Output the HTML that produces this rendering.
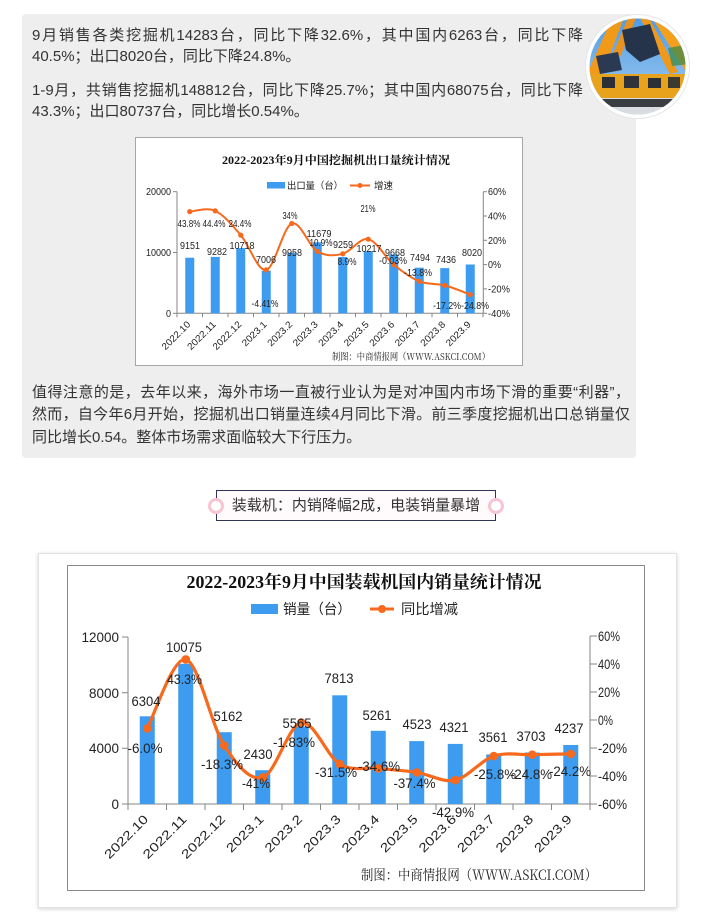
<!DOCTYPE html>
<html><head><meta charset="utf-8">
<style>
html,body{margin:0;padding:0;background:#fff;}
body{width:715px;height:922px;position:relative;overflow:hidden;font-family:"Liberation Sans","Noto Sans CJK SC",sans-serif;}
.gbox{position:absolute;left:22px;top:14px;width:614px;height:444px;background:#eeeeee;border-radius:4px;}
.ln{position:absolute;left:32px;height:22px;line-height:22px;font-size:15px;color:#333;white-space:nowrap;}
.j{text-align:justify;text-align-last:justify;}
.card{position:absolute;left:38px;top:553px;width:637px;height:353px;background:#fff;border:1px solid #e2e2e2;box-shadow:0 1px 4px rgba(0,0,0,0.18);}
.tag{position:absolute;left:216px;top:490px;width:280px;height:31px;border:1px solid #2f3558;background:#fffafb;box-sizing:border-box;text-align:center;line-height:29px;font-size:15px;color:#333;white-space:nowrap;}
.dot{position:absolute;width:10px;height:10px;border-radius:50%;border:3px solid #f7c4d2;background:#fff;}
svg{position:absolute;left:0;top:0;}
</style></head><body>
<div class="gbox"></div>
<div class="ln j" style="top:25px;width:551px;">9月销售各类挖掘机14283台，同比下降32.6%，其中国内6263台，同比下降</div>
<div class="ln" style="top:46px;">40.5%；出口8020台，同比下降24.8%。</div>
<div class="ln j" style="top:80px;width:551px;">1-9月，共销售挖掘机148812台，同比下降25.7%；其中国内68075台，同比下降</div>
<div class="ln" style="top:101px;">43.3%；出口80737台，同比增长0.54%。</div>
<div class="ln j" style="top:382px;width:598px;">值得注意的是，去年以来，海外市场一直被行业认为是对冲国内市场下滑的重要“利器”，</div>
<div class="ln j" style="top:404px;width:598px;">然而，自今年6月开始，挖掘机出口销量连续4月同比下滑。前三季度挖掘机出口总销量仅</div>
<div class="ln" style="top:427px;">同比增长0.54。整体市场需求面临较大下行压力。</div>

<div class="tag">装载机：内销降幅2成，电装销量暴增</div>
<div class="dot" style="left:208px;top:498px;"></div>
<div class="dot" style="left:488px;top:498px;"></div>

<div class="card"></div>

<svg width="715" height="922" viewBox="0 0 715 922" xmlns="http://www.w3.org/2000/svg">
<defs>
<clipPath id="cc"><circle cx="637.5" cy="66.5" r="48"/></clipPath>
<linearGradient id="sky" x1="0" y1="0" x2="0" y2="1"><stop offset="0" stop-color="#4f9be6"/><stop offset="1" stop-color="#a9d0f0"/></linearGradient>
</defs>
<!-- photo circle -->
<circle cx="637.5" cy="66.5" r="52" fill="#fff" stroke="#e6e6e6" stroke-width="1"/>
<g clip-path="url(#cc)">
<rect x="589" y="18" width="97" height="97" fill="url(#sky)"/>
<polygon points="588,72 600,80 624,18 612,18" fill="#f19a1a"/>
<polygon points="606,70 614,72 636,18 628,18" fill="#e99220"/>
<polygon points="652,18 666,18 690,62 690,78" fill="#f3a01e"/>
<polygon points="640,18 649,18 678,72 670,74" fill="#ee981c"/>
<polygon points="622,30 650,24 660,54 640,62 626,50" fill="#25344a"/>
<polygon points="596,56 618,52 622,70 600,74" fill="#2b3a52"/>
<polygon points="668,48 690,44 690,64 672,66" fill="#3f8a48" opacity="0.75"/>
<rect x="589" y="74" width="97" height="26" fill="#e9a21c"/>
<rect x="602" y="77" width="13" height="11" fill="#2c2f35"/>
<rect x="624" y="76" width="15" height="12" fill="#30343a"/>
<rect x="648" y="78" width="13" height="10" fill="#2c2f35"/>
<rect x="668" y="77" width="12" height="11" fill="#3a3a30"/>
<rect x="589" y="98" width="97" height="20" fill="#d9dde0"/>
<rect x="596" y="99" width="80" height="8" fill="#3a3d42"/>
</g>

<!-- ===== TOP CHART ===== -->
<rect x="135.5" y="137.5" width="387" height="228" fill="#fff" stroke="#a6a6a6"/>
<text x="336" y="164" text-anchor="middle" font-family="Liberation Serif,Noto Serif CJK SC,serif" font-weight="bold" font-size="11.5" textLength="228" lengthAdjust="spacingAndGlyphs" fill="#111">2022-2023年9月中国挖掘机出口量统计情况</text>
<rect x="267" y="182" width="18" height="6.5" fill="#3d9cf0"/>
<text x="287" y="189" font-family="Noto Sans CJK SC,sans-serif" font-size="9.5" textLength="56" lengthAdjust="spacingAndGlyphs" fill="#222">出口量（台）</text>
<line x1="350" y1="185.5" x2="370" y2="185.5" stroke="#f7691c" stroke-width="2"/>
<circle cx="360" cy="185.5" r="2.5" fill="#f7691c"/>
<text x="374" y="189" font-family="Noto Sans CJK SC,sans-serif" font-size="9.5" textLength="19" lengthAdjust="spacingAndGlyphs" fill="#222">增速</text>
<g stroke="#868686" stroke-width="1" fill="none">
<line x1="177" y1="191.7" x2="177" y2="313.3"/>
<line x1="173" y1="191.7" x2="177" y2="191.7"/><line x1="173" y1="252.5" x2="177" y2="252.5"/><line x1="173" y1="313.3" x2="177" y2="313.3"/>
<line x1="483.3" y1="191.7" x2="483.3" y2="313.3"/>
<line x1="483.3" y1="191.7" x2="487" y2="191.7"/><line x1="483.3" y1="216" x2="487" y2="216"/><line x1="483.3" y1="240.3" x2="487" y2="240.3"/><line x1="483.3" y1="264.6" x2="487" y2="264.6"/><line x1="483.3" y1="288.9" x2="487" y2="288.9"/><line x1="483.3" y1="313.3" x2="487" y2="313.3"/>
<line x1="177" y1="313.3" x2="483.3" y2="313.3"/>
<path d="M177 313.3v4M202.5 313.3v4M228 313.3v4M253.5 313.3v4M279 313.3v4M304.5 313.3v4M330 313.3v4M355.5 313.3v4M381 313.3v4M406.5 313.3v4M432 313.3v4M457.5 313.3v4M483 313.3v4"/>
</g>
<g font-family="Liberation Sans,sans-serif" font-size="10" fill="#222">
<text x="171" y="195" text-anchor="end" textLength="25" lengthAdjust="spacingAndGlyphs">20000</text>
<text x="171" y="256" text-anchor="end" textLength="25" lengthAdjust="spacingAndGlyphs">10000</text>
<text x="171" y="317" text-anchor="end" textLength="5" lengthAdjust="spacingAndGlyphs">0</text>
<text x="488" y="195" textLength="18" lengthAdjust="spacingAndGlyphs">60%</text>
<text x="488" y="219.5" textLength="18" lengthAdjust="spacingAndGlyphs">40%</text>
<text x="488" y="243.8" textLength="18" lengthAdjust="spacingAndGlyphs">20%</text>
<text x="488" y="268" textLength="13" lengthAdjust="spacingAndGlyphs">0%</text>
<text x="488" y="292.4" textLength="22" lengthAdjust="spacingAndGlyphs">-20%</text>
<text x="488" y="316.8" textLength="22" lengthAdjust="spacingAndGlyphs">-40%</text>
</g>
<g fill="#3d9cf0">
<rect x="185.25" y="257.7" width="9" height="55.6"/>
<rect x="210.75" y="256.9" width="9" height="56.4"/>
<rect x="236.25" y="248.1" width="9" height="65.2"/>
<rect x="261.75" y="270.7" width="9" height="42.6"/>
<rect x="287.25" y="252.8" width="9" height="60.5"/>
<rect x="312.75" y="242.3" width="9" height="71"/>
<rect x="338.25" y="257" width="9" height="56.3"/>
<rect x="363.75" y="251.2" width="9" height="62.1"/>
<rect x="389.25" y="254.5" width="9" height="58.8"/>
<rect x="414.75" y="267.7" width="9" height="45.6"/>
<rect x="440.25" y="268.1" width="9" height="45.2"/>
<rect x="465.75" y="264.5" width="9" height="48.8"/>
</g>
<path d="M189.75,211.6 C193.99,211.48 206.75,206.98 215.25,210.9 C223.75,214.82 232.25,225.27 240.75,235.1 C249.25,244.93 257.75,271.83 266.25,269.9 C274.75,267.97 283.25,226.58 291.75,223.5 C300.25,220.42 308.75,246.35 317.25,251.4 C325.75,256.45 334.25,255.83 342.75,253.8 C351.25,251.77 359.75,237.4 368.25,239.2 C376.75,241 385.25,257.58 393.75,264.6 C402.25,271.62 410.75,277.83 419.25,281.3 C427.75,284.77 436.25,283.18 444.75,285.4 C453.25,287.62 466,293.07 470.25,294.6" fill="none" stroke="#f7691c" stroke-width="2"/>
<g fill="#f7691c">
<circle cx="189.75" cy="211.6" r="2.6"/><circle cx="215.25" cy="210.9" r="2.6"/><circle cx="240.75" cy="235.1" r="2.6"/><circle cx="266.25" cy="269.9" r="2.6"/><circle cx="291.75" cy="223.5" r="2.6"/><circle cx="317.25" cy="251.4" r="2.6"/><circle cx="342.75" cy="253.8" r="2.6"/><circle cx="368.25" cy="239.2" r="2.6"/><circle cx="393.75" cy="264.6" r="2.6"/><circle cx="419.25" cy="281.3" r="2.6"/><circle cx="444.75" cy="285.4" r="2.6"/><circle cx="470.25" cy="294.6" r="2.6"/>
</g>
<g font-family="Liberation Sans,sans-serif" font-size="10" fill="#222" text-anchor="middle">
<text x="190" y="249" textLength="20" lengthAdjust="spacingAndGlyphs">9151</text>
<text x="217" y="255" textLength="20" lengthAdjust="spacingAndGlyphs">9282</text>
<text x="242" y="249" textLength="25" lengthAdjust="spacingAndGlyphs">10718</text>
<text x="266" y="263" textLength="20" lengthAdjust="spacingAndGlyphs">7006</text>
<text x="292" y="256" textLength="20" lengthAdjust="spacingAndGlyphs">9958</text>
<text x="319" y="237" textLength="25" lengthAdjust="spacingAndGlyphs">11679</text>
<text x="343" y="248" textLength="20" lengthAdjust="spacingAndGlyphs">9259</text>
<text x="369" y="252" textLength="25" lengthAdjust="spacingAndGlyphs">10217</text>
<text x="395" y="256" textLength="20" lengthAdjust="spacingAndGlyphs">9668</text>
<text x="420" y="261" textLength="20" lengthAdjust="spacingAndGlyphs">7494</text>
<text x="446" y="263" textLength="20" lengthAdjust="spacingAndGlyphs">7436</text>
<text x="472" y="256" textLength="20" lengthAdjust="spacingAndGlyphs">8020</text>
<text x="189" y="227" textLength="23" lengthAdjust="spacingAndGlyphs">43.8%</text>
<text x="214" y="227" textLength="23" lengthAdjust="spacingAndGlyphs">44.4%</text>
<text x="240" y="227" textLength="23" lengthAdjust="spacingAndGlyphs">24.4%</text>
<text x="265" y="307" textLength="27" lengthAdjust="spacingAndGlyphs">-4.41%</text>
<text x="290" y="219" textLength="15" lengthAdjust="spacingAndGlyphs">34%</text>
<text x="321" y="246" textLength="23" lengthAdjust="spacingAndGlyphs">10.9%</text>
<text x="347" y="265" textLength="19" lengthAdjust="spacingAndGlyphs">8.9%</text>
<text x="368" y="212" textLength="15" lengthAdjust="spacingAndGlyphs">21%</text>
<text x="393" y="264" textLength="28" lengthAdjust="spacingAndGlyphs">-0.03%</text>
<text x="418" y="276" textLength="28" lengthAdjust="spacingAndGlyphs">-13.8%</text>
<text x="447" y="309" textLength="28" lengthAdjust="spacingAndGlyphs">-17.2%</text>
<text x="475" y="309" textLength="28" lengthAdjust="spacingAndGlyphs">-24.8%</text>
</g>
<g font-family="Liberation Sans,sans-serif" font-size="9.5" fill="#222" text-anchor="end">
<text transform="translate(191,325) rotate(-45)" textLength="36" lengthAdjust="spacingAndGlyphs">2022.10</text>
<text transform="translate(216.5,325) rotate(-45)" textLength="36" lengthAdjust="spacingAndGlyphs">2022.11</text>
<text transform="translate(242,325) rotate(-45)" textLength="36" lengthAdjust="spacingAndGlyphs">2022.12</text>
<text transform="translate(267.5,325) rotate(-45)" textLength="31" lengthAdjust="spacingAndGlyphs">2023.1</text>
<text transform="translate(293,325) rotate(-45)" textLength="31" lengthAdjust="spacingAndGlyphs">2023.2</text>
<text transform="translate(318.5,325) rotate(-45)" textLength="31" lengthAdjust="spacingAndGlyphs">2023.3</text>
<text transform="translate(344,325) rotate(-45)" textLength="31" lengthAdjust="spacingAndGlyphs">2023.4</text>
<text transform="translate(369.5,325) rotate(-45)" textLength="31" lengthAdjust="spacingAndGlyphs">2023.5</text>
<text transform="translate(395,325) rotate(-45)" textLength="31" lengthAdjust="spacingAndGlyphs">2023.6</text>
<text transform="translate(420.5,325) rotate(-45)" textLength="31" lengthAdjust="spacingAndGlyphs">2023.7</text>
<text transform="translate(446,325) rotate(-45)" textLength="31" lengthAdjust="spacingAndGlyphs">2023.8</text>
<text transform="translate(471.5,325) rotate(-45)" textLength="31" lengthAdjust="spacingAndGlyphs">2023.9</text>
</g>
<text x="332" y="360" font-family="Noto Serif CJK SC,serif" font-size="9.6" fill="#222" textLength="158" lengthAdjust="spacingAndGlyphs">制图：中商情报网（WWW.ASKCI.COM）</text>

<!-- ===== BOTTOM CHART ===== -->
<rect x="67.5" y="565.5" width="577" height="325" fill="#fff" stroke="#8a8a8a"/>
<text x="364" y="588" text-anchor="middle" font-family="Liberation Serif,Noto Serif CJK SC,serif" font-weight="bold" font-size="17.5" textLength="355" lengthAdjust="spacingAndGlyphs" fill="#111">2022-2023年9月中国装载机国内销量统计情况</text>
<rect x="251" y="604" width="27" height="10" fill="#3d9cf0"/>
<text x="283" y="614" font-family="Noto Sans CJK SC,sans-serif" font-size="14" textLength="68" lengthAdjust="spacingAndGlyphs" fill="#222">销量（台）</text>
<line x1="370" y1="609" x2="394" y2="609" stroke="#f7691c" stroke-width="3"/>
<circle cx="382" cy="609" r="4" fill="#f7691c"/>
<text x="401" y="614" font-family="Noto Sans CJK SC,sans-serif" font-size="14" textLength="57" lengthAdjust="spacingAndGlyphs" fill="#222">同比增减</text>
<g stroke="#868686" stroke-width="1" fill="none">
<line x1="128" y1="637" x2="128" y2="804"/>
<path d="M122 637h6M122 692.7h6M122 748.3h6M122 804h6"/>
<line x1="590" y1="636" x2="590" y2="804"/>
<path d="M590 636h7M590 664h7M590 692h7M590 720h7M590 748h7M590 776h7M590 804h7"/>
<line x1="128" y1="804" x2="590" y2="804"/>
<path d="M128 804v6M166.5 804v6M205 804v6M243.5 804v6M282 804v6M320.5 804v6M359 804v6M397.5 804v6M436 804v6M474.5 804v6M513 804v6M551.5 804v6M590 804v6"/>
</g>
<g font-family="Liberation Sans,sans-serif" font-size="14" fill="#222">
<text x="119" y="642" text-anchor="end" textLength="37.5" lengthAdjust="spacingAndGlyphs">12000</text>
<text x="119" y="698" text-anchor="end" textLength="30" lengthAdjust="spacingAndGlyphs">8000</text>
<text x="119" y="753" text-anchor="end" textLength="30" lengthAdjust="spacingAndGlyphs">4000</text>
<text x="119" y="809" text-anchor="end" textLength="7.5" lengthAdjust="spacingAndGlyphs">0</text>
<text x="598" y="641" textLength="22" lengthAdjust="spacingAndGlyphs">60%</text>
<text x="598" y="669" textLength="22" lengthAdjust="spacingAndGlyphs">40%</text>
<text x="598" y="697" textLength="22" lengthAdjust="spacingAndGlyphs">20%</text>
<text x="598" y="725" textLength="15" lengthAdjust="spacingAndGlyphs">0%</text>
<text x="598" y="753" textLength="29" lengthAdjust="spacingAndGlyphs">-20%</text>
<text x="598" y="781" textLength="29" lengthAdjust="spacingAndGlyphs">-40%</text>
<text x="598" y="809" textLength="29" lengthAdjust="spacingAndGlyphs">-60%</text>
</g>
<g fill="#3d9cf0">
<rect x="139.75" y="716.3" width="15" height="87.7"/>
<rect x="178.25" y="663.8" width="15" height="140.2"/>
<rect x="216.75" y="732.2" width="15" height="71.8"/>
<rect x="255.25" y="770.2" width="15" height="33.8"/>
<rect x="293.75" y="726.6" width="15" height="77.4"/>
<rect x="332.25" y="695.3" width="15" height="108.7"/>
<rect x="370.75" y="730.8" width="15" height="73.2"/>
<rect x="409.25" y="741.1" width="15" height="62.9"/>
<rect x="447.75" y="743.9" width="15" height="60.1"/>
<rect x="486.25" y="754.4" width="15" height="49.6"/>
<rect x="524.75" y="752.5" width="15" height="51.5"/>
<rect x="563.25" y="745" width="15" height="59"/>
</g>
<path d="M147.25,728.4 C153.67,716.9 172.92,656.53 185.75,659.4 C198.58,662.27 211.42,725.93 224.25,745.6 C237.08,765.27 249.92,781.23 262.75,777.4 C275.58,773.57 288.42,724.82 301.25,722.6 C314.08,720.38 326.92,756.47 339.75,764.1 C352.58,771.73 365.42,767.02 378.25,768.4 C391.08,769.78 403.92,770.45 416.75,772.4 C429.58,774.35 442.42,782.82 455.25,780.1 C468.08,777.38 480.92,760.33 493.75,756.1 C506.58,751.87 519.42,755.07 532.25,754.7 C545.08,754.33 564.33,754.03 570.75,753.9" fill="none" stroke="#f7691c" stroke-width="3.2"/>
<g fill="#f7691c">
<circle cx="147.25" cy="728.4" r="4.3"/><circle cx="185.75" cy="659.4" r="4.3"/><circle cx="224.25" cy="745.6" r="4.3"/><circle cx="262.75" cy="777.4" r="4.3"/><circle cx="301.25" cy="722.6" r="4.3"/><circle cx="339.75" cy="764.1" r="4.3"/><circle cx="378.25" cy="768.4" r="4.3"/><circle cx="416.75" cy="772.4" r="4.3"/><circle cx="455.25" cy="780.1" r="4.3"/><circle cx="493.75" cy="756.1" r="4.3"/><circle cx="532.25" cy="754.7" r="4.3"/><circle cx="570.75" cy="753.9" r="4.3"/>
</g>
<g font-family="Liberation Sans,sans-serif" font-size="14" fill="#222" text-anchor="middle">
<text x="146" y="706" textLength="29" lengthAdjust="spacingAndGlyphs">6304</text>
<text x="184" y="652" textLength="36" lengthAdjust="spacingAndGlyphs">10075</text>
<text x="228" y="721" textLength="29" lengthAdjust="spacingAndGlyphs">5162</text>
<text x="258" y="759" textLength="29" lengthAdjust="spacingAndGlyphs">2430</text>
<text x="297" y="728" textLength="29" lengthAdjust="spacingAndGlyphs">5565</text>
<text x="339" y="683" textLength="29" lengthAdjust="spacingAndGlyphs">7813</text>
<text x="377" y="720" textLength="29" lengthAdjust="spacingAndGlyphs">5261</text>
<text x="417" y="729" textLength="29" lengthAdjust="spacingAndGlyphs">4523</text>
<text x="454" y="732" textLength="29" lengthAdjust="spacingAndGlyphs">4321</text>
<text x="493" y="742" textLength="29" lengthAdjust="spacingAndGlyphs">3561</text>
<text x="531" y="741" textLength="29" lengthAdjust="spacingAndGlyphs">3703</text>
<text x="569" y="733" textLength="29" lengthAdjust="spacingAndGlyphs">4237</text>
<text x="145" y="753" textLength="35" lengthAdjust="spacingAndGlyphs">-6.0%</text>
<text x="184.5" y="684" textLength="35" lengthAdjust="spacingAndGlyphs">43.3%</text>
<text x="222" y="769" textLength="42" lengthAdjust="spacingAndGlyphs">-18.3%</text>
<text x="256" y="788" textLength="28" lengthAdjust="spacingAndGlyphs">-41%</text>
<text x="294" y="747" textLength="42" lengthAdjust="spacingAndGlyphs">-1.83%</text>
<text x="336" y="777" textLength="42" lengthAdjust="spacingAndGlyphs">-31.5%</text>
<text x="379" y="771" textLength="42" lengthAdjust="spacingAndGlyphs">-34.6%</text>
<text x="414.5" y="788" textLength="42" lengthAdjust="spacingAndGlyphs">-37.4%</text>
<text x="453" y="817" textLength="42" lengthAdjust="spacingAndGlyphs">-42.9%</text>
<text x="495" y="779" textLength="42" lengthAdjust="spacingAndGlyphs">-25.8%</text>
<text x="531" y="779" textLength="42" lengthAdjust="spacingAndGlyphs">-24.8%</text>
<text x="570" y="776" textLength="42" lengthAdjust="spacingAndGlyphs">-24.2%</text>
</g>
<g font-family="Liberation Sans,sans-serif" font-size="12.5" fill="#222" text-anchor="end">
<text transform="translate(149,820) rotate(-45)" textLength="56" lengthAdjust="spacingAndGlyphs">2022.10</text>
<text transform="translate(187.5,820) rotate(-45)" textLength="56" lengthAdjust="spacingAndGlyphs">2022.11</text>
<text transform="translate(226,820) rotate(-45)" textLength="56" lengthAdjust="spacingAndGlyphs">2022.12</text>
<text transform="translate(264.5,820) rotate(-45)" textLength="47" lengthAdjust="spacingAndGlyphs">2023.1</text>
<text transform="translate(303,820) rotate(-45)" textLength="47" lengthAdjust="spacingAndGlyphs">2023.2</text>
<text transform="translate(341.5,820) rotate(-45)" textLength="47" lengthAdjust="spacingAndGlyphs">2023.3</text>
<text transform="translate(380,820) rotate(-45)" textLength="47" lengthAdjust="spacingAndGlyphs">2023.4</text>
<text transform="translate(418.5,820) rotate(-45)" textLength="47" lengthAdjust="spacingAndGlyphs">2023.5</text>
<text transform="translate(457,820) rotate(-45)" textLength="47" lengthAdjust="spacingAndGlyphs">2023.6</text>
<text transform="translate(495.5,820) rotate(-45)" textLength="47" lengthAdjust="spacingAndGlyphs">2023.7</text>
<text transform="translate(534,820) rotate(-45)" textLength="47" lengthAdjust="spacingAndGlyphs">2023.8</text>
<text transform="translate(572.5,820) rotate(-45)" textLength="47" lengthAdjust="spacingAndGlyphs">2023.9</text>
</g>
<text x="361" y="880" font-family="Noto Serif CJK SC,serif" font-size="14.3" fill="#222" textLength="236" lengthAdjust="spacingAndGlyphs">制图：中商情报网（WWW.ASKCI.COM）</text>
</svg>
</body></html>
